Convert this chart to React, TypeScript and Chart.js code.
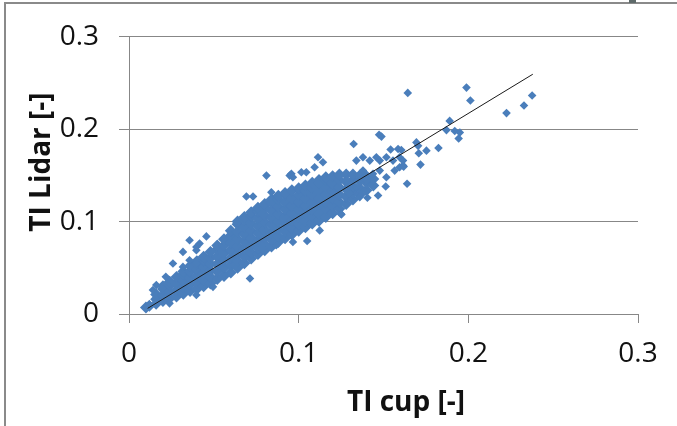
import React, { useEffect, useRef } from 'react';
import { Chart, registerables } from 'chart.js';

Chart.register(...registerables);

// ---- data ----
const xTickLabels = ['0', '0.1', '0.2', '0.3'];
const yTickLabels = ['0', '0.1', '0.2', '0.3'];
const xTitle = 'TI cup [-]';
const yTitle = 'TI Lidar [-]';

// dense core of the cloud: one TI cup value per column, with the TI Lidar values in that column
const coreCup = [
  0.010, 0.012, 0.016, 0.020, 0.024, 0.028, 0.032, 0.036, 0.040, 0.044, 0.048, 0.052, 0.056,
  0.060, 0.064, 0.068, 0.072, 0.076, 0.080, 0.084, 0.088, 0.092, 0.096, 0.100, 0.104, 0.108,
  0.112, 0.116, 0.120, 0.124, 0.128, 0.132, 0.136, 0.140, 0.144,
];
const coreLidar = [
  [0.007],
  [0.009],
  [0.011, 0.016, 0.021],
  [0.014, 0.020, 0.027, 0.030],
  [0.017, 0.024, 0.031, 0.035],
  [0.019, 0.026, 0.033, 0.040],
  [0.022, 0.029, 0.036, 0.043, 0.046],
  [0.025, 0.032, 0.039, 0.046, 0.052],
  [0.027, 0.034, 0.041, 0.048, 0.055, 0.057],
  [0.030, 0.037, 0.044, 0.051, 0.058, 0.062],
  [0.033, 0.040, 0.047, 0.054, 0.061, 0.067],
  [0.038, 0.046, 0.054, 0.062, 0.070, 0.074],
  [0.041, 0.050, 0.058, 0.066, 0.074, 0.081],
  [0.045, 0.053, 0.061, 0.069, 0.077, 0.085, 0.090],
  [0.050, 0.057, 0.065, 0.073, 0.081, 0.089, 0.097, 0.100],
  [0.055, 0.062, 0.070, 0.078, 0.086, 0.094, 0.102, 0.105],
  [0.060, 0.066, 0.074, 0.082, 0.090, 0.098, 0.106, 0.110],
  [0.065, 0.071, 0.079, 0.087, 0.095, 0.103, 0.111, 0.115],
  [0.069, 0.075, 0.083, 0.091, 0.099, 0.107, 0.115, 0.119],
  [0.073, 0.080, 0.088, 0.096, 0.104, 0.112, 0.120, 0.124],
  [0.078, 0.084, 0.092, 0.100, 0.108, 0.116, 0.124, 0.128],
  [0.082, 0.089, 0.097, 0.105, 0.113, 0.121, 0.129, 0.131],
  [0.086, 0.093, 0.101, 0.109, 0.117, 0.125, 0.134],
  [0.090, 0.097, 0.105, 0.113, 0.121, 0.129, 0.136],
  [0.094, 0.101, 0.109, 0.117, 0.125, 0.133, 0.139],
  [0.098, 0.105, 0.113, 0.121, 0.129, 0.137, 0.142],
  [0.101, 0.109, 0.117, 0.125, 0.133, 0.141, 0.145],
  [0.105, 0.113, 0.121, 0.129, 0.137, 0.145, 0.148],
  [0.109, 0.117, 0.125, 0.133, 0.141, 0.149],
  [0.114, 0.121, 0.129, 0.137, 0.145, 0.151],
  [0.119, 0.127, 0.135, 0.143, 0.151],
  [0.124, 0.131, 0.138, 0.145, 0.151],
  [0.129, 0.136, 0.144, 0.150],
  [0.134, 0.142, 0.149],
  [0.139, 0.146],
];

// individual points around the core
const scatterCup = [
  0.0141, 0.0161, 0.0217, 0.0259, 0.0318, 0.0318, 0.0357, 0.0357, 0.0397, 0.0397, 0.0416, 0.0456,
  0.0692, 0.0731, 0.0810, 0.0839, 0.0947, 0.0957, 0.0966, 0.1016, 0.1045, 0.1094, 0.1114, 0.1143,
  0.0239, 0.0397, 0.0495, 0.0713, 0.0868, 0.0966, 0.1050, 0.1124, 0.1248, 0.1252,
  0.1281, 0.1301, 0.1340, 0.1340, 0.1360, 0.1379, 0.1379, 0.1399, 0.1405, 0.1419, 0.1438, 0.1458,
  0.1468, 0.1478, 0.1478, 0.1513, 0.1517, 0.1517, 0.1556, 0.1566, 0.1595, 0.1595, 0.1615, 0.1639,
  0.1324, 0.1474, 0.1488, 0.1542, 0.1586, 0.1605, 0.1615, 0.1619, 0.1643, 0.1694, 0.1704, 0.1708,
  0.1718, 0.1753, 0.1824, 0.1871, 0.1890, 0.1920, 0.1950, 0.1943, 0.1989, 0.2012, 0.2225, 0.2328,
  0.2376,
];
const scatterLidar = [
  0.0259, 0.0313, 0.0402, 0.0547, 0.0510, 0.0672, 0.0582, 0.0798, 0.0690, 0.0725, 0.0762, 0.0840,
  0.1272, 0.1272, 0.1498, 0.1318, 0.1498, 0.1517, 0.1480, 0.1534, 0.1534, 0.1588, 0.1696, 0.1642,
  0.0115, 0.0205, 0.0294, 0.0385, 0.0744, 0.0779, 0.0790, 0.0905, 0.1085, 0.1078,
  0.1444, 0.1301, 0.1372, 0.1660, 0.1265, 0.1696, 0.1552, 0.1444, 0.1258, 0.1660, 0.1517, 0.1696,
  0.1283, 0.1660, 0.1552, 0.1380, 0.1696, 0.1480, 0.1660, 0.1552, 0.1696, 0.1588, 0.1606, 0.1409,
  0.1840, 0.1940, 0.1920, 0.1780, 0.1786, 0.1775, 0.1660, 0.1595, 0.2393, 0.1857, 0.1820, 0.1739,
  0.1617, 0.1768, 0.1797, 0.1990, 0.2090, 0.1980, 0.1965, 0.1900, 0.2450, 0.2310, 0.2174, 0.2256,
  0.2364,
];

// fitted line end points
const fitCup = [0.011, 0.238];
const fitLidar = [0.0061, 0.2595];

// ---- styling ----
const POINT_COLOR = '#4A7EBB';
const AXIS_COLOR = '#878787';
const TEXT_COLOR = '#111111';
const FONT = "'Open Sans', 'DejaVu Sans', sans-serif";

const framePlugin = {
  id: 'frame',
  beforeDraw(chart: any) {
    const { ctx, width, height } = chart;
    ctx.save();
    ctx.fillStyle = '#ffffff';
    ctx.fillRect(0, 0, width, height);
    ctx.strokeStyle = '#8a8a8a';
    ctx.lineWidth = 2;
    ctx.beginPath();
    ctx.moveTo(5, height);
    ctx.lineTo(5, 3);
    ctx.lineTo(width, 3);
    ctx.stroke();
    ctx.fillStyle = '#5e6a6a';
    ctx.fillRect(629, 0, 7, 3);
    ctx.restore();
  },
  afterDraw(chart: any) {
    const { ctx } = chart;
    ctx.save();
    ctx.fillStyle = TEXT_COLOR;
    ctx.font = `bold 28px ${FONT}`;
    ctx.textAlign = 'center';
    ctx.textBaseline = 'alphabetic';
    ctx.fillText(xTitle, 406, 411);
    ctx.translate(50, 162);
    ctx.rotate(-Math.PI / 2);
    ctx.fillText(yTitle, 0, 0);
    ctx.restore();
  },
};

export default function App() {
  const canvasRef = useRef<HTMLCanvasElement | null>(null);

  useEffect(() => {
    document.body.style.margin = '0';
    const canvas = canvasRef.current;
    if (!canvas) return;

    const corePoints: { x: number; y: number }[] = [];
    coreCup.forEach((x, i) => coreLidar[i].forEach((y) => corePoints.push({ x, y })));
    const scatterPoints = scatterCup.map((x, i) => ({ x, y: scatterLidar[i] }));
    const fitPoints = fitCup.map((x, i) => ({ x, y: fitLidar[i] }));

    const chart = new Chart(canvas, {
      type: 'scatter',
      data: {
        datasets: [
          {
            type: 'line',
            label: 'fit',
            data: fitPoints,
            borderColor: '#1a1a1a',
            borderWidth: 1,
            pointRadius: 0,
            fill: false,
          } as any,
          {
            label: 'scatter',
            data: scatterPoints,
            pointStyle: 'rectRot',
            pointRadius: 4.3,
            backgroundColor: POINT_COLOR,
            borderColor: POINT_COLOR,
            borderWidth: 0,
          },
          {
            label: 'core',
            data: corePoints,
            pointStyle: 'rectRot',
            pointRadius: 6,
            backgroundColor: POINT_COLOR,
            borderColor: POINT_COLOR,
            borderWidth: 0,
          },
        ],
      },
      options: {
        responsive: false,
        animation: false,
        devicePixelRatio: 1,
        events: [],
        layout: { padding: { top: 36, right: 39, left: 0, bottom: 0 } },
        plugins: { legend: { display: false }, tooltip: { enabled: false } },
        scales: {
          x: {
            type: 'linear',
            min: 0,
            max: 0.3,
            afterFit: (s: any) => {
              s.height = 112;
            },
            grid: {
              drawOnChartArea: false,
              drawTicks: true,
              tickLength: 9,
              color: AXIS_COLOR,
            },
            border: { display: true, color: AXIS_COLOR, width: 1 },
            ticks: {
              stepSize: 0.1,
              padding: 14,
              color: TEXT_COLOR,
              font: { family: FONT, size: 28 },
              callback: (v: any) => xTickLabels[Math.round(Number(v) / 0.1)],
              maxRotation: 0,
            },
          },
          y: {
            type: 'linear',
            min: 0,
            max: 0.3,
            afterFit: (s: any) => {
              s.width = 129;
            },
            grid: {
              drawOnChartArea: true,
              drawTicks: true,
              tickLength: 10,
              color: AXIS_COLOR,
            },
            border: { display: true, color: AXIS_COLOR, width: 1 },
            ticks: {
              stepSize: 0.1,
              padding: 20,
              color: TEXT_COLOR,
              font: { family: FONT, size: 28 },
              callback: (v: any) => yTickLabels[Math.round(Number(v) / 0.1)],
            },
          },
        },
      },
      plugins: [framePlugin],
    });

    return () => chart.destroy();
  }, []);

  return (
    <div style={{ width: 677, height: 426, position: 'relative' }}>
      <canvas ref={canvasRef} width={677} height={426} style={{ display: 'block' }} />
    </div>
  );
}
